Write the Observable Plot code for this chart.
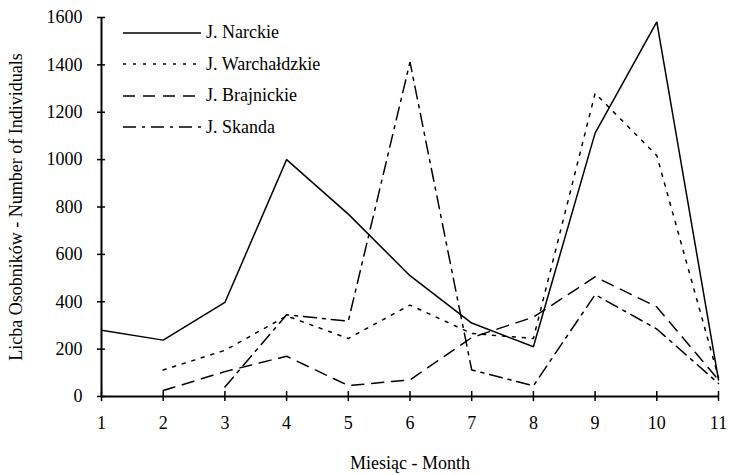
<!DOCTYPE html>
<html>
<head>
<meta charset="utf-8">
<script src="https://cdn.jsdelivr.net/npm/d3@7"></script>
<script src="https://cdn.jsdelivr.net/npm/@observablehq/plot@0.6"></script>
<style>
  body { margin: 0; background: #fff; }
  #wrap { position: relative; width: 729px; height: 475px; font-family: "Liberation Serif", "DejaVu Serif", serif; }
  #legend { position: absolute; left: 123px; top: 17px; font-size: 18px; color: #000; }
  .row { display: flex; align-items: center; height: 31.5px; }
  .row svg { margin-right: 5px; }
</style>
</head>
<body>
<div id="wrap"></div>
<script>
const months = [1, 2, 3, 4, 5, 6, 7, 8, 9, 10, 11];
const yTicks = [0, 200, 400, 600, 800, 1000, 1200, 1400, 1600];
const seriesNames = ["J. Narckie", "J. Warchałdzkie", "J. Brajnickie", "J. Skanda"];
const narckie =      [280, 238, 397, 1000, 770, 510, 310, 210, 1112, 1582, 70];
const warchaldzkie = [null, 112, 195, 340, 245, 386, 266, 245, 1280, 1017, 80];
const brajnickie =   [null, 25, 105, 170, 46, 70, 249, 335, 505, 378, 70];
const skanda =       [null, null, 40, 345, 318, 1412, 112, 45, 430, 285, 55];
const seriesValues = [narckie, warchaldzkie, brajnickie, skanda];
const dashes = [null, "3,7", "12,8", "13,6,3,6"];

const data = [];
seriesNames.forEach((name, i) => {
  seriesValues[i].forEach((v, j) => {
    if (v != null) data.push({series: name, month: months[j], value: v});
  });
});

const lineMarks = seriesNames.map((name, i) =>
  Plot.line(data.filter(d => d.series === name), {
    x: "month", y: "value", stroke: "#000", strokeWidth: 1.5,
    strokeDasharray: dashes[i], strokeLinejoin: "miter"
  })
);

const chart = Plot.plot({
  width: 729,
  height: 475,
  marginLeft: 101,
  marginRight: 11,
  marginTop: 17,
  marginBottom: 79,
  style: {fontFamily: "Liberation Serif, serif", fontSize: "18px", color: "#000", background: "#fff"},
  x: {domain: [1, 11]},
  y: {domain: [0, 1600]},
  marks: [
    Plot.axisY(yTicks, {tickSize: 0, tickPadding: 19, tickFormat: d3.format("d"), label: "Licba Osobników - Number of Individuals", labelArrow: "none", labelAnchor: "center", labelOffset: 92, fontSize: 18}),
    Plot.axisX(months, {tickSize: 0, tickPadding: 20, tickFormat: d3.format("d"), label: "Miesiąc - Month", labelArrow: "none", labelAnchor: "center", labelOffset: 72, fontSize: 18}),
    Plot.ruleY(yTicks, {x1: 1, x2: 1, insetLeft: -4, insetRight: -4, stroke: "#000", strokeWidth: 1.5}),
    Plot.ruleX(months, {y1: 0, y2: 0, insetTop: -5, insetBottom: -5, stroke: "#000", strokeWidth: 1.5}),
    Plot.ruleY([0], {x1: 1, x2: 11, stroke: "#000", strokeWidth: 2}),
    Plot.ruleX([1], {y1: 0, y2: 1600, stroke: "#000", strokeWidth: 2}),
    ...lineMarks
  ]
});
document.getElementById("wrap").appendChild(chart);

const legend = document.createElement("div");
legend.id = "legend";
seriesNames.forEach((name, i) => {
  const row = document.createElement("div");
  row.className = "row";
  row.innerHTML = `<svg width="78" height="6"><line x1="0" x2="78" y1="3" y2="3" stroke="#000" stroke-width="1.5" ${dashes[i] ? `stroke-dasharray="${dashes[i]}"` : ""}/></svg><span>${name}</span>`;
  legend.appendChild(row);
});
document.getElementById("wrap").appendChild(legend);
</script>
</body>
</html>
